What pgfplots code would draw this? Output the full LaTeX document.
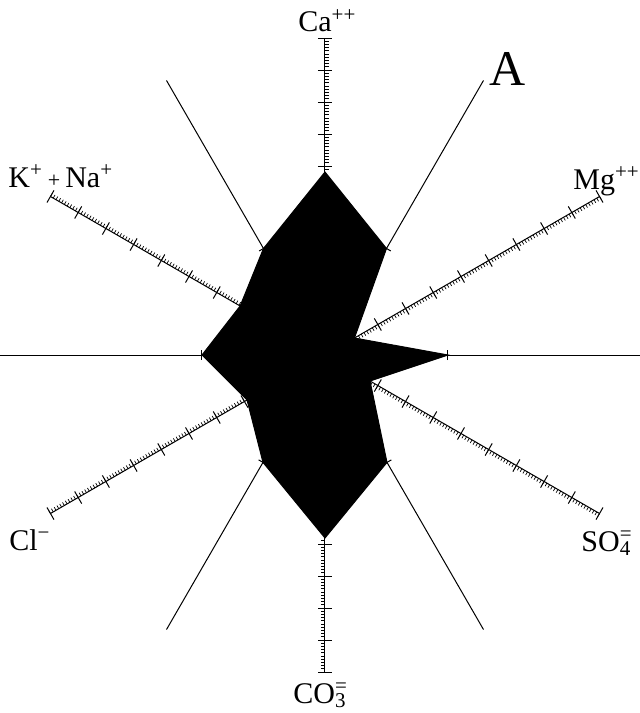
\documentclass[border=0pt]{standalone}
\usepackage{fontspec}
\setmainfont{Liberation Serif}
\usepackage{pgfplots}
\pgfplotsset{compat=1.18}
\usetikzlibrary{decorations.markings}

\tikzset{
  scaleaxis/.style={postaction={decorate}, decoration={markings,
    mark=between positions 0 and 1 step 1.6pt with {\draw[line width=0.35pt] (0,0)--(0,1.8pt);},
    mark=between positions 0 and 1 step 16pt with {\draw[line width=0.5pt] (0,-3.5pt)--(0,3.5pt);}}},
  plainaxis/.style={postaction={decorate}, decoration={markings,
    mark=at position 0 with {\draw[line width=0.5pt] (0,-2.5pt)--(0,2.5pt);}}},
  lab/.style={anchor=base west, inner sep=0pt, font=\fontsize{15}{18}\selectfont}
}

\begin{document}
\begin{tikzpicture}
\begin{axis}[
  x=0.5pt, y=0.5pt,
  xmin=-325, xmax=315, ymin=-358, ymax=355,
  hide axis, clip=true, disabledatascaling,
]
% ionic composition polygon (radius in drawing units)
\addplot[fill=black, draw=black, line width=0.5pt, data cs=polar] coordinates {
  (90,183) (60,123) (30,34) (0,123) (-30,52) (-60,124)
  (-90,183) (-120,124) (-150,90) (180,123) (150,98) (120,123)
} -- cycle;

% scaled axes (drawn from outer end inward)
\addplot[black, line width=0.5pt, data cs=polar, scaleaxis] coordinates {(90,317) (90,183)};
\addplot[black, line width=0.5pt, data cs=polar, scaleaxis] coordinates {(30,317) (30,34)};
\addplot[black, line width=0.5pt, data cs=polar, scaleaxis] coordinates {(-30,317) (-30,52)};
\addplot[black, line width=0.5pt, data cs=polar, scaleaxis] coordinates {(-90,317) (-90,183)};
\addplot[black, line width=0.5pt, data cs=polar, scaleaxis] coordinates {(-150,317) (-150,90)};
\addplot[black, line width=0.5pt, data cs=polar, scaleaxis] coordinates {(150,317) (150,98)};

% plain axes (drawn from vertex outward)
\addplot[black, line width=0.5pt, data cs=polar, plainaxis] coordinates {(60,123) (60,317)};
\addplot[black, line width=0.5pt, data cs=polar, plainaxis] coordinates {(120,123) (120,317)};
\addplot[black, line width=0.5pt, data cs=polar, plainaxis] coordinates {(-60,124) (-60,317)};
\addplot[black, line width=0.5pt, data cs=polar, plainaxis] coordinates {(-120,124) (-120,317)};
\addplot[black, line width=0.5pt, data cs=polar, plainaxis] coordinates {(0,123) (0,315)};
\addplot[black, line width=0.5pt, data cs=polar, plainaxis] coordinates {(180,123) (180,325)};

\node[lab] at (axis cs:-27,323) {Ca\textsuperscript{++}};
\node[lab, font=\fontsize{25}{30}\selectfont] at (axis cs:164,270) {A};
\node[lab] at (axis cs:248,166) {Mg\textsuperscript{++}};
\node[lab] at (axis cs:-317,168) {K\textsuperscript{+}\,{\fontsize{11}{12}\selectfont +}\,Na\textsuperscript{+}};
\node[lab] at (axis cs:-316,-195) {Cl\textsuperscript{\textminus}};
\node[lab] at (axis cs:256,-196) {SO\rlap{\textsuperscript{=}}\textsubscript{4}};
\node[lab] at (axis cs:-32,-348) {CO\rlap{\textsuperscript{=}}\textsubscript{3}};
\end{axis}
\pgfresetboundingbox
\path[use as bounding box] (current axis.south west) rectangle (current axis.north east);
\end{tikzpicture}
\end{document}
